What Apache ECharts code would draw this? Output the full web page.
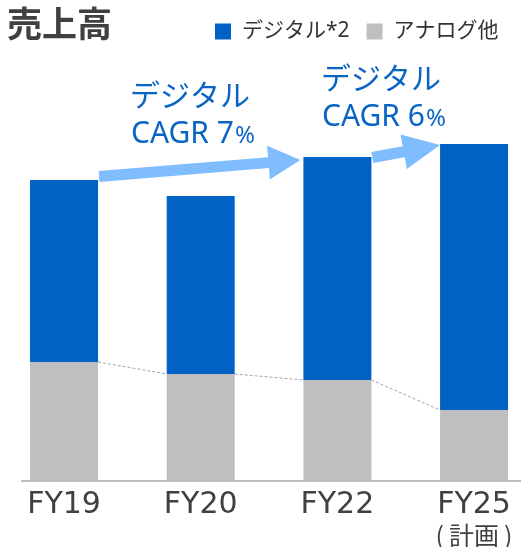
<!DOCTYPE html>
<html>
<head>
<meta charset="utf-8">
<script src="https://cdn.jsdelivr.net/npm/echarts@6/dist/echarts.min.js"></script>
<style>
  html, body { margin: 0; padding: 0; background: #fff; }
  #main { width: 521px; height: 547px; }
</style>
</head>
<body>
<div id="main"></div>
<script>
var categories = ['FY19', 'FY20', 'FY22', 'FY25'];
var digital = [182, 178, 223, 266];   // デジタル*2
var analog = [119, 107, 101, 71];     // アナログ他
var cagrNotes = [['デジタル', 'CAGR 7'], ['デジタル', 'CAGR 6']];

var BLUE = '#0062c4';
var GREY = '#bfbfbf';
var ARROW = '#80bdff';
var TEXT_BLUE = '#0a64c4';
var FONT = "'Noto Sans', 'Noto Sans CJK JP', sans-serif";

var myChart = echarts.init(document.getElementById('main'));

var option = {
    animation: false,
    textStyle: { fontFamily: FONT },
    title: {
        text: '売上高',
        left: 2,
        top: 1,
        textStyle: { fontSize: 35, fontWeight: 'bold', color: '#404040', fontFamily: "'Noto Sans CJK JP'" }
    },
    legend: {
        data: ['デジタル*2', 'アナログ他'],
        left: 210,
        top: 16,
        icon: 'rect',
        itemWidth: 16,
        itemHeight: 16,
        itemGap: 17,
        textStyle: { fontSize: 21, color: '#333', padding: [0, 0, 0, 6] }
    },
    grid: {
        left: -4.3,
        right: -21.4,
        top: 141,
        bottom: 66,
        outerBoundsMode: 'none',
        containLabel: false
    },
    xAxis: {
        type: 'category',
        data: categories,
        axisLine: { show: false },
        axisTick: { show: false },
        axisLabel: {
            interval: 0,
            hideOverlap: false,
            margin: 7,
            fontSize: 30,
            lineHeight: 34,
            color: '#404040',
            fontFamily: "'DejaVu Sans'",
            formatter: function (v) {
                return v === 'FY25' ? 'FY25\n{s|(\u2009計画\u2009)}' : v;
            },
            rich: {
                s: { fontSize: 25, lineHeight: 26, color: '#404040', fontFamily: "'Noto Sans CJK JP'" }
            }
        }
    },
    yAxis: {
        type: 'value',
        min: 0,
        max: 340,
        show: false,
        splitLine: { show: false }
    },
    series: [{
        name: 'アナログ他',
        type: 'bar',
        stack: 'sales',
        barWidth: 68,
        data: analog,
        itemStyle: { color: GREY }
    }, {
        name: 'デジタル*2',
        type: 'bar',
        stack: 'sales',
        barWidth: 68,
        data: digital,
        itemStyle: { color: BLUE }
    }, {
        // dashed connectors between the tops of the grey bars
        type: 'custom',
        silent: true,
        z: 5,
        data: analog.map(function (v, i) { return [i, v]; }),
        renderItem: function (params, api) {
            var i = api.value(0);
            if (i >= analog.length - 1) return;
            var a = api.coord([i, analog[i]]);
            var b = api.coord([i + 1, analog[i + 1]]);
            return {
                type: 'line',
                shape: { x1: a[0] + 34, y1: a[1], x2: b[0] - 34, y2: b[1] },
                style: { stroke: '#a6a6a6', lineWidth: 1, lineDash: [3, 2] }
            };
        }
    }]
};

myChart.setOption(option);

function arrowPoints(x1, y1, x2, y2, shaft, headLen, headW) {
    var dx = x2 - x1, dy = y2 - y1;
    var len = Math.sqrt(dx * dx + dy * dy);
    var ux = dx / len, uy = dy / len;
    var nx = -uy, ny = ux;
    var bx = x2 - ux * headLen, by = y2 - uy * headLen;
    var s = shaft / 2, h = headW / 2;
    return [
        [x1 + nx * s, y1 + ny * s],
        [bx + nx * s, by + ny * s],
        [bx + nx * h, by + ny * h],
        [x2, y2],
        [bx - nx * h, by - ny * h],
        [bx - nx * s, by - ny * s],
        [x1 - nx * s, y1 - ny * s]
    ];
}

var base = myChart.convertToPixel({ gridIndex: 0 }, [0, 0]);
var top19 = myChart.convertToPixel({ gridIndex: 0 }, [0, analog[0] + digital[0]]);
var top22 = myChart.convertToPixel({ gridIndex: 0 }, [2, analog[2] + digital[2]]);
var top25 = myChart.convertToPixel({ gridIndex: 0 }, [3, analog[3] + digital[3]]);

function noteText(x, y, lines) {
    return [{
        type: 'text', left: x, top: y,
        style: { text: lines[0], fontSize: 30, fill: TEXT_BLUE, fontFamily: "'Noto Sans CJK JP'" }
    }, {
        type: 'text', left: x + 1, top: y + 39.5,
        style: {
            text: '{a|' + lines[1] + '}{b|%}',
            rich: {
                a: { fontSize: 30, fill: TEXT_BLUE, fontFamily: "'Noto Sans'" },
                b: { fontSize: 24, fill: TEXT_BLUE, fontFamily: "'Noto Sans'", padding: [4, 0, 0, 1] }
            }
        }
    }];
}

var graphics = [{
    type: 'line',
    shape: { x1: 21, y1: base[1], x2: 521, y2: base[1] },
    style: { stroke: '#bdbdbd', lineWidth: 2 },
    z: 10
}, {
    type: 'polygon',
    shape: { points: arrowPoints(top19[0] + 35, top19[1] - 3.5, top22[0] - 37, top22[1] + 3, 11, 32, 34) },
    style: { fill: ARROW }
}, {
    type: 'polygon',
    shape: { points: arrowPoints(top22[0] + 35, top22[1] + 0.5, top25[0] - 34, top25[1] + 1, 11, 37, 35) },
    style: { fill: ARROW }
}].concat(noteText(130, 80, cagrNotes[0]), noteText(321, 63, cagrNotes[1]));

myChart.setOption({ graphic: graphics });
</script>
</body>
</html>
